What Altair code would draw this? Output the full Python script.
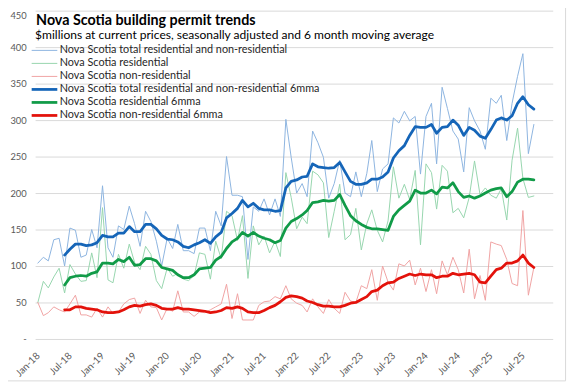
import altair as alt
import pandas as pd

# ---------------- data (millions of $, monthly, Jan-2018 .. Sep-2025) ----------------
start_month = "2018-01-01"
n_months = 93

total = [104, 112, 107, 136, 138, 100, 152, 149, 112, 115, 150, 125, 210, 125, 112, 155, 150, 182, 158, 127,
         175, 161, 134, 100, 138, 124, 157, 121, 121, 117, 152, 152, 121, 175, 155, 250, 197, 197, 195, 109,
         181, 175, 192, 170, 192, 168, 301, 249, 200, 213, 195, 285, 269, 249, 193, 213, 245, 200, 195, 229,
         195, 227, 272, 202, 233, 240, 303, 296, 312, 299, 305, 226, 305, 323, 240, 345, 316, 285, 274, 229,
         317, 299, 285, 260, 330, 323, 334, 272, 323, 360, 391, 254, 294]

residential = [50, 79, 70, 85, 97, 63, 102, 89, 79, 80, 118, 84, 180, 81, 77, 116, 97, 130, 105, 95,
               127, 116, 80, 69, 97, 86, 90, 82, 80, 87, 118, 116, 82, 134, 110, 175, 169, 135, 169, 83,
               155, 129, 141, 118, 134, 113, 228, 194, 151, 167, 158, 230, 225, 214, 139, 175, 212, 136, 143, 179,
               122, 158, 177, 149, 133, 162, 236, 193, 212, 191, 231, 129, 240, 228, 178, 238, 230, 173, 179, 166,
               194, 244, 198, 207, 197, 193, 206, 163, 245, 289, 220, 194, 196]

non_residential = [50, 32, 36, 44, 40, 37, 48, 60, 33, 33, 30, 42, 30, 44, 35, 37, 48, 54, 56, 35,
                   53, 44, 43, 26, 42, 38, 66, 37, 37, 31, 37, 36, 40, 44, 48, 75, 28, 62, 26, 26,
                   26, 46, 51, 52, 58, 55, 73, 55, 49, 46, 37, 55, 44, 35, 54, 42, 35, 64, 52, 50,
                   73, 69, 95, 53, 100, 78, 67, 103, 100, 108, 74, 97, 65, 95, 62, 107, 88, 112, 95, 63,
                   123, 55, 87, 53, 133, 130, 128, 109, 76, 73, 176, 60, 98]

# 6-month moving averages (first value is Jun-2018)
total_6mma = [115, 123, 130, 130, 128, 129, 132, 142, 140, 140, 145, 145, 154, 147, 147, 157, 157, 151, 142, 137,
              136, 133, 127, 125, 129, 132, 136, 131, 140, 146, 166, 172, 179, 190, 181, 186, 179, 177, 177, 175,
              176, 207, 216, 218, 222, 223, 240, 236, 235, 234, 235, 242, 229, 216, 212, 212, 214, 219, 219, 222,
              229, 248, 258, 265, 279, 291, 290, 290, 294, 282, 290, 291, 300, 293, 279, 290, 286, 278, 275, 287,
              300, 303, 300, 306, 323, 332, 321, 315]

residential_6mma = [74, 84, 86, 87, 86, 90, 92, 104, 104, 103, 109, 106, 112, 101, 102, 110, 110, 107, 98, 96,
                    94, 88, 84, 84, 88, 96, 97, 98, 108, 113, 124, 133, 138, 146, 141, 146, 141, 138, 136, 132,
                    135, 152, 161, 165, 170, 176, 187, 188, 190, 189, 190, 198, 183, 169, 162, 157, 153, 151, 151, 150,
                    149, 168, 177, 183, 189, 204, 200, 200, 204, 199, 208, 207, 214, 202, 194, 196, 193, 196, 200, 204,
                    206, 207, 195, 202, 215, 219, 219, 218]

non_residential_6mma = [40, 40, 44, 44, 42, 41, 40, 37, 36, 36, 37, 40, 44, 46, 45, 47, 48, 46, 42, 41,
                        41, 43, 41, 41, 40, 39, 38, 36, 37, 39, 43, 42, 44, 42, 37, 36, 36, 39, 43, 46,
                        51, 57, 59, 58, 56, 52, 50, 47, 45, 45, 44, 44, 46, 49, 50, 54, 58, 65, 67, 73,
                        77, 78, 83, 86, 89, 87, 89, 88, 88, 84, 86, 86, 90, 88, 89, 90, 88, 78, 77, 86,
                        95, 97, 104, 104, 107, 115, 104, 98]

series_names = [
    "Nova Scotia total residential and non-residential",
    "Nova Scotia residential",
    "Nova Scotia non-residential",
    "Nova Scotia total residential and non-residential 6mma",
    "Nova Scotia residential 6mma",
    "Nova Scotia non-residential 6mma",
]
series_values = [total, residential, non_residential, total_6mma, residential_6mma, non_residential_6mma]

title_text = "Nova Scotia building permit trends"
subtitle_text = "$millions at current prices, seasonally adjusted and 6 month moving average"
y_ticks = [0, 50, 100, 150, 200, 250, 300, 350, 400, 450]
x_tick_years = list(range(2018, 2026))

# ---------------- styles ----------------
colors = ["#8CB4DF", "#96D5AE", "#F0A3A3", "#1565B8", "#119B48", "#E3120B"]
widths = [1.0, 1.0, 1.0, 2.8, 2.8, 2.8]
FONT = "Lato"
GRID = "#D9D9D9"
AXIS_TXT = "#595959"

dates = pd.date_range(start_month, periods=n_months, freq="MS")

x_values = []
for yr in x_tick_years:
    x_values.append(alt.DateTime(year=yr, month=1, date=1))
    x_values.append(alt.DateTime(year=yr, month=7, date=1))

x_enc = alt.X(
    "date:T",
    title=None,
    scale=alt.Scale(domain=[alt.DateTime(year=2017, month=12, date=16, hours=12),
                            alt.DateTime(year=2025, month=12, date=16, hours=12)]),
    axis=alt.Axis(values=x_values, format="%b-%y", labelAngle=-45, labelAlign="right",
                  labelBaseline="middle", labelPadding=15, labelOverlap=False,
                  grid=False, ticks=False, domain=False, labelFont=FONT, labelFontSize=10,
                  labelColor=AXIS_TXT),
)
y_enc = alt.Y(
    "value:Q",
    title=None,
    scale=alt.Scale(domain=[0, 450], nice=False),
    axis=alt.Axis(values=y_ticks, labelExpr="datum.value == 0 ? '-' : datum.label",
                  grid=True, gridColor=GRID, gridWidth=1, domain=False, ticks=False,
                  labelPadding=9, labelFont=FONT, labelFontSize=9.5, labelColor=AXIS_TXT,
                  labelBaseline={"condition": {"test": "datum.value >= 450", "value": "top"},
                                 "value": "middle"}),
)

layers = []
for name, vals, col, w in zip(series_names, series_values, colors, widths):
    d = dates[len(dates) - len(vals):]
    df = pd.DataFrame({"date": d, "value": vals, "series": name})
    layers.append(
        alt.Chart(df).mark_line(color=col, strokeWidth=w, strokeJoin="round", strokeCap="round")
        .encode(x=x_enc, y=y_enc)
    )

# title / subtitle (positions are in pixels relative to the plot area)
layers.append(
    alt.Chart(pd.DataFrame({"t": [title_text]})).mark_text(
        align="left", baseline="alphabetic", font=FONT, fontSize=14.5, fontWeight="bold", color="#000000"
    ).encode(x=alt.value(1), y=alt.value(14.8), text="t:N")
)
layers.append(
    alt.Chart(pd.DataFrame({"t": [subtitle_text]})).mark_text(
        align="left", baseline="alphabetic", font=FONT, fontSize=12.2, color="#000000"
    ).encode(x=alt.value(0), y=alt.value(28.6), text="t:N")
)

# legend
for k, (name, col, w) in enumerate(zip(series_names, colors, widths)):
    yy = 40.3 + 13.2 * k
    layers.append(
        alt.Chart(pd.DataFrame({"s": [name]})).mark_rule(color=col, strokeWidth=w)
        .encode(x=alt.value(-3.5), x2=alt.value(22.5), y=alt.value(yy))
    )
    layers.append(
        alt.Chart(pd.DataFrame({"s": [name]})).mark_text(
            align="left", baseline="middle", font=FONT, fontSize=11, color="#262626"
        ).encode(x=alt.value(25), y=alt.value(yy), text="s:N")
    )

# chart border (right and bottom edges)
layers.append(
    alt.Chart(pd.DataFrame({"b": [0]})).mark_rule(color=GRID, strokeWidth=1)
    .encode(x=alt.value(538), y=alt.value(-8), y2=alt.value(375.5))
)
layers.append(
    alt.Chart(pd.DataFrame({"b": [0]})).mark_rule(color=GRID, strokeWidth=1)
    .encode(x=alt.value(-28), x2=alt.value(538), y=alt.value(375.5))
)

chart = (
    alt.layer(*layers)
    .properties(
        width=525, height=333,
        autosize=alt.AutoSizeParams(type="none"),
        padding={"left": 27.5, "top": 0, "right": 16.5, "bottom": 44},
        background="white",
    )
    .configure_view(stroke=None)
)

chart.save("out.html", embed_options={"renderer": "svg", "actions": False})
